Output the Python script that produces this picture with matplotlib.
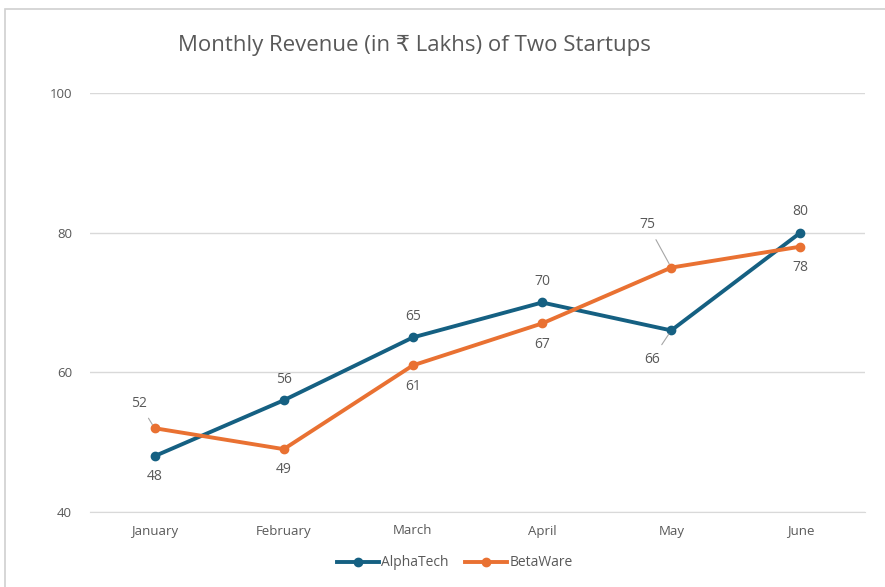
import matplotlib.pyplot as plt
from matplotlib.patches import Rectangle

months = ["January", "February", "March", "April", "May", "June"]
alpha = [48, 56, 65, 70, 66, 80]
beta = [52, 49, 61, 67, 75, 78]
y_ticks = [40, 60, 80, 100]

# label placement: +1 above, -1 below
alpha_pos = [-1, 1, 1, 1, -1, 1]
beta_pos = [1, -1, -1, -1, 1, -1]

blue = "#156082"
orange = "#E97132"
txt = "#595959"

plt.rcParams['font.family'] = ['Open Sans', 'DejaVu Sans']

fig = plt.figure(figsize=(8.85, 5.87), dpi=100)
fig.patches.append(Rectangle((5 / 885, -0.1), 1.0, (587 - 9) / 587 + 0.1,
                             transform=fig.transFigure, fill=False,
                             edgecolor="#d0d0d0", linewidth=1.2))
ax = fig.add_axes([90 / 885, 75 / 587, 775 / 885, 419 / 587])

x = list(range(len(months)))
ax.plot(x, alpha, color=blue, lw=2.8, marker="o", ms=6, label="AlphaTech", zorder=3)
ax.plot(x, beta, color=orange, lw=2.8, marker="o", ms=6, label="BetaWare", zorder=3)

leader = dict(arrowstyle="-", color="#a6a6a6", lw=0.8, shrinkA=4, shrinkB=3)
for i, v in enumerate(alpha):
    if i == 4:
        ax.annotate(str(v), (i, v), xytext=(-14, -21), textcoords="offset points",
                    ha="center", va="center", color=txt, fontsize=10, arrowprops=leader)
    else:
        ax.annotate(str(v), (i, v), xytext=(0, 15 * alpha_pos[i]), textcoords="offset points",
                    ha="center", va="center", color=txt, fontsize=10)
for i, v in enumerate(beta):
    if i in (0, 4):
        off = (-17, 31) if i == 4 else (-11, 18)
        ax.annotate(str(v), (i, v), xytext=off, textcoords="offset points",
                    ha="center", va="center", color=txt, fontsize=10, arrowprops=leader)
    else:
        ax.annotate(str(v), (i, v), xytext=(0, 15 * beta_pos[i]), textcoords="offset points",
                    ha="center", va="center", color=txt, fontsize=10)

ax.set_xlim(-0.5, 5.5)
ax.set_ylim(40, 100)
ax.set_yticks(y_ticks)
ax.set_xticks(x)
ax.set_xticklabels(months)
ax.tick_params(axis="both", length=0, colors=txt, labelsize=9.5)
ax.tick_params(axis="x", pad=9)
ax.tick_params(axis="y", pad=13)
ax.grid(axis="y", color="#d9d9d9", lw=1)
ax.set_axisbelow(True)
for s in ax.spines.values():
    s.set_visible(False)
ax.spines["bottom"].set_visible(True)
ax.spines["bottom"].set_color("#d9d9d9")

fig.text(414 / 885, 1 - 45 / 587, "Monthly Revenue (in \u20b9 Lakhs) of Two Startups",
         ha="center", va="center", fontsize=16, color=txt)

fig.legend(loc="center", bbox_to_anchor=(455 / 885, 1 - 563 / 587), ncol=2,
           frameon=False, fontsize=10, labelcolor=txt, handlelength=3,
           columnspacing=1.2, handletextpad=0.2)

fig.savefig("out.png", dpi=100)
